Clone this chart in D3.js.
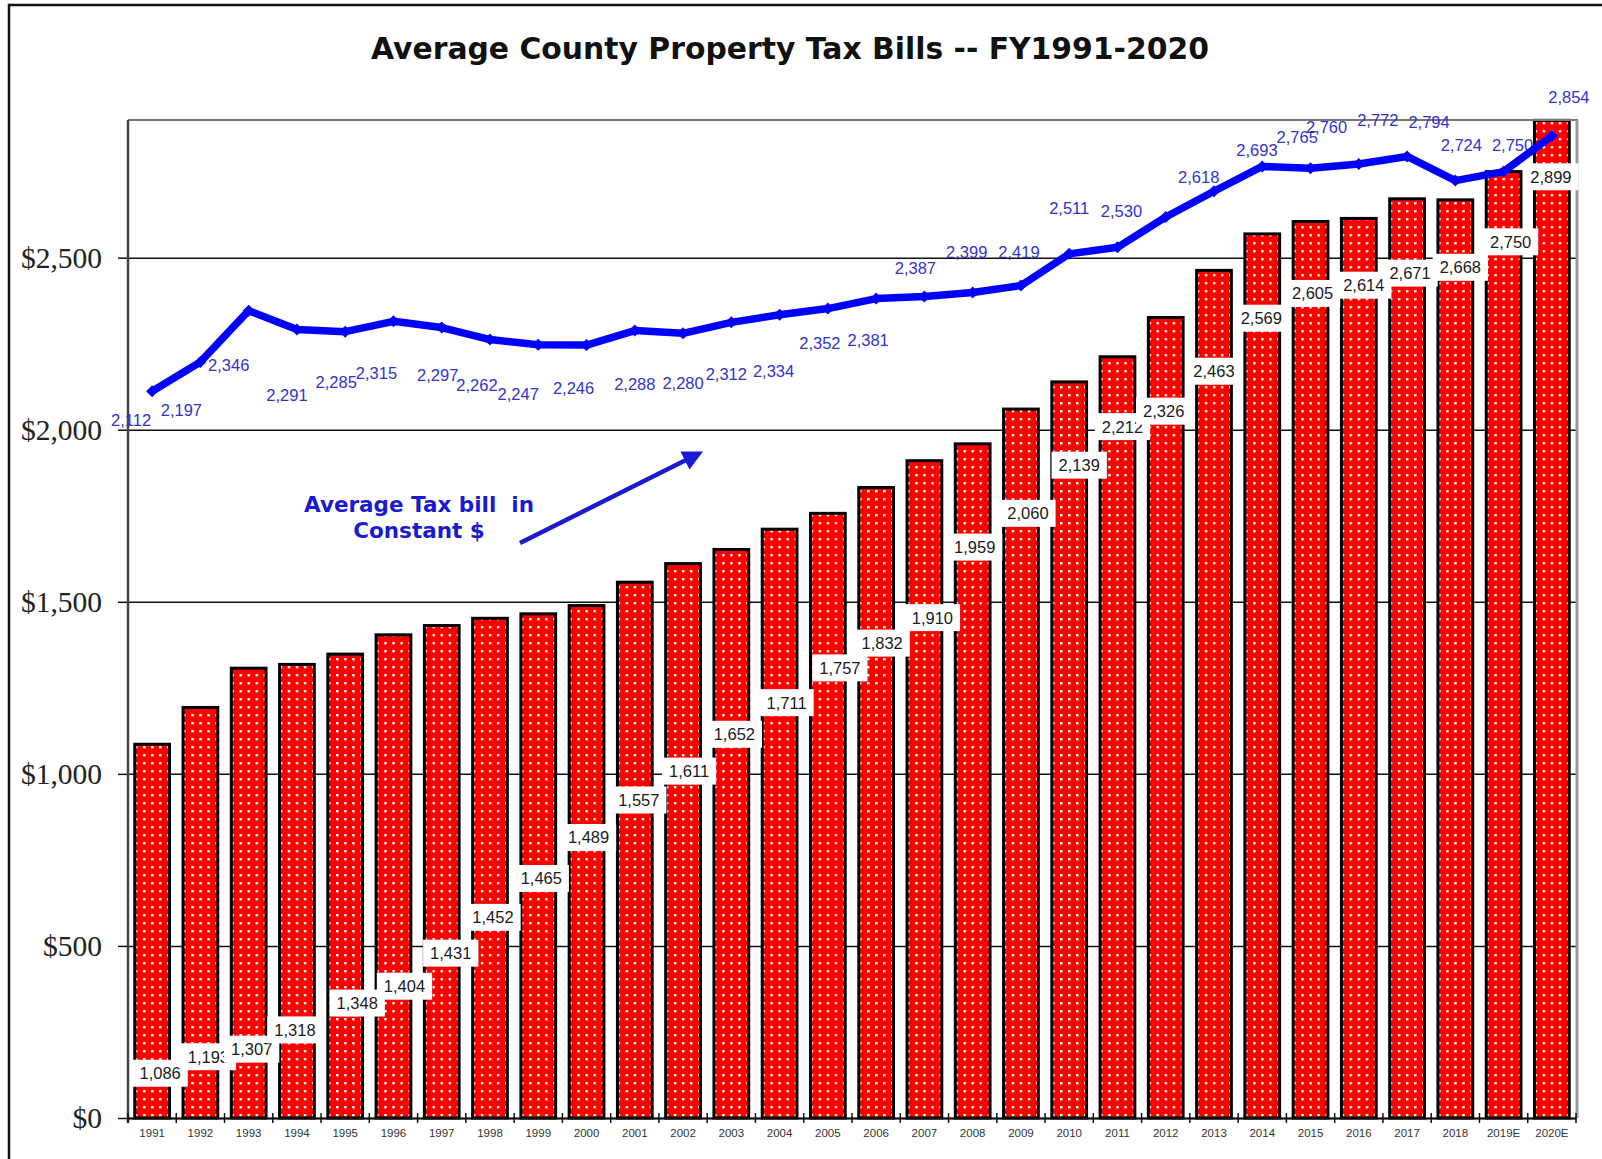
<!DOCTYPE html>
<html>
<head>
<meta charset="utf-8">
<script src="https://cdn.jsdelivr.net/npm/d3@7"></script>
<style>
  body { margin: 0; background: #fff; }
  svg { display: block; }
</style>
</head>
<body>
<div id="chart"></div>
<script>
// categories + series
var years = ["1991", "1992", "1993", "1994", "1995", "1996", "1997", "1998", "1999", "2000",
  "2001", "2002", "2003", "2004", "2005", "2006", "2007", "2008", "2009", "2010",
  "2011", "2012", "2013", "2014", "2015", "2016", "2017", "2018", "2019E", "2020E"];

var billNominal = [1086, 1193, 1307, 1318, 1348, 1404, 1431, 1452, 1465, 1489,
  1557, 1611, 1652, 1711, 1757, 1832, 1910, 1959, 2060, 2139,
  2212, 2326, 2463, 2569, 2605, 2614, 2671, 2668, 2750, 2899];

var billConstant = [2112, 2197, 2346, 2291, 2285, 2315, 2297, 2262, 2247, 2246,
  2288, 2280, 2312, 2334, 2352, 2381, 2387, 2399, 2419, 2511,
  2530, 2618, 2693, 2765, 2760, 2772, 2794, 2724, 2750, 2854];

var yTicks = [0, 500, 1000, 1500, 2000, 2500];

// where the (hand placed) bar labels sit, in dollars, and their nudge
var barLabelAt = [130, 178, 200, 256, 334, 383, 479, 583, 696, 815,
  924, 1008, 1115, 1207, 1308, 1380, 1454, 1659, 1757, 1897,
  2009, 2054, 2170, 2324, 2396, 2420, 2455, 2472, 2546, 2735];
var barLabelDx = [8, 8, 3, -2, 12, 11, 9, 3, 3, 2, 4, 6, 3, 7, 12, 6, 8, 2, 7, 10,
  5, -2, 0, -1, 2, 5, 3, 5, 7, -1];

// nudges of the blue labels from their points
var lineLabelDx = [-21, -19, -20, -10, -9, -17, -4, -13, -20, -13, 0, 0, -5, -6, -8, -8,
  -9, -6, -2, 0, 4, 33, 43, 35, 16, 19, 22, 6, 9, 17];
var lineLabelDy = [29, 48, 54, 65, 50, 52, 48, 45, 49, 43, 53, 50, 52, 56, 34, 41,
  -28, -40, -33, -46, -36, -40, -41, -29, -41, -44, -34, -36, -27, -39];

var width = 1602,
  height = 1159;
var plotLeft = 128,
  plotRight = 1576,
  plotTop = 120,
  plotBottom = 1118;

var fmt = d3.format(",");

var svg = d3.select("#chart")
  .append("svg")
  .attr("width", width)
  .attr("height", height);

// outer frame
svg.append("rect")
  .attr("x", 9)
  .attr("y", 5)
  .attr("width", width)
  .attr("height", height)
  .attr("fill", "none")
  .attr("stroke", "#111")
  .attr("stroke-width", 2.5);

//title
var title = svg.append("text")
  .attr("x", 790)
  .attr("y", 59)
  .attr("text-anchor", "middle")
  .style("font-family", "'DejaVu Sans', sans-serif")
  .style("font-weight", "bold")
  .style("font-size", "31px")
  .attr("fill", "#111")
  .text("Average County Property Tax Bills -- FY1991-2020");
if (Math.abs(title.node().getComputedTextLength() - 838) > 4) {
  title.attr("textLength", 838).attr("lengthAdjust", "spacingAndGlyphs");
}

var x = d3.scaleBand()
  .domain(years)
  .range([plotLeft, plotRight])
  .paddingInner(0.28)
  .paddingOuter(0.14);

var y = d3.scaleLinear()
  .domain([0, 2900])
  .range([plotBottom, plotTop]);

function cx(d) {
  return x(d) + x.bandwidth() / 2;
}

// dotted fill for the bars
var defs = svg.append("defs");
var pat = defs.append("pattern")
  .attr("id", "dots")
  .attr("patternUnits", "userSpaceOnUse")
  .attr("x", x(years[0]) + 8.2)
  .attr("y", 2)
  .attr("width", x.step() / 6)
  .attr("height", 8);
pat.append("rect")
  .attr("x", -10).attr("y", -10)
  .attr("width", 40).attr("height", 40)
  .attr("fill", "#ff0000");
pat.append("rect")
  .attr("width", 2.4)
  .attr("height", 2.4)
  .attr("fill", "#fff");

//grid lines
svg.append("g")
  .attr("transform", "translate(" + plotLeft + ",0)")
  .call(d3.axisLeft(y).tickValues(yTicks).tickSizeInner(-(plotRight - plotLeft)).tickSizeOuter(0).tickFormat(""))
  .call(function(g) {
    g.select(".domain").remove();
    g.selectAll("line").attr("stroke", "#111").attr("stroke-width", 1.5);
  });

// y labels + short outside ticks
svg.append("g")
  .attr("transform", "translate(" + plotLeft + ",0)")
  .call(d3.axisLeft(y).tickValues(yTicks).tickSize(10).tickPadding(16).tickFormat(function(d) {
    return "$" + fmt(d);
  }))
  .call(function(g) {
    g.select(".domain").remove();
    g.selectAll("line").attr("stroke", "#111").attr("stroke-width", 1.5);
    g.selectAll("text")
      .attr("fill", "#222")
      .style("font-family", "'Liberation Serif', 'Times New Roman', serif")
      .style("font-size", "29.5px");
  });

//bars
svg.append("g")
  .selectAll("rect")
  .data(billNominal)
  .enter().append("rect")
  .attr("x", function(d, i) { return x(years[i]); })
  .attr("y", function(d) { return y(d); })
  .attr("width", x.bandwidth())
  .attr("height", function(d) { return plotBottom - y(d); })
  .attr("fill", "url(#dots)")
  .attr("stroke", "#000")
  .attr("stroke-width", 3);

// plot border (top/right gray, left dark)
svg.append("line")
  .attr("x1", plotLeft).attr("x2", plotRight + 2)
  .attr("y1", plotTop).attr("y2", plotTop)
  .attr("stroke", "#777").attr("stroke-width", 2);
svg.append("line")
  .attr("x1", plotRight + 1).attr("x2", plotRight + 1)
  .attr("y1", plotTop).attr("y2", plotBottom)
  .attr("stroke", "#999").attr("stroke-width", 3);
svg.append("line")
  .attr("x1", plotLeft).attr("x2", plotLeft)
  .attr("y1", plotTop).attr("y2", plotBottom + 5)
  .attr("stroke", "#444").attr("stroke-width", 2.5);

// x axis, ticks between the bars
var xAxis = svg.append("g")
  .attr("transform", "translate(0," + plotBottom + ")")
  .call(d3.axisBottom(x).tickSize(0).tickPadding(11))
  .call(function(g) {
    g.select(".domain").attr("stroke", "#111").attr("stroke-width", 2);
    g.selectAll("text")
      .attr("fill", "#333")
      .style("font-family", "'Liberation Sans', Arial, sans-serif")
      .style("font-size", "11.5px");
  });
xAxis.selectAll(".sep")
  .data(d3.range(years.length + 1))
  .enter().append("line")
  .attr("class", "sep")
  .attr("x1", function(i) { return plotLeft + i * x.step(); })
  .attr("x2", function(i) { return plotLeft + i * x.step(); })
  .attr("y1", -5)
  .attr("y2", 5)
  .attr("stroke", "#111")
  .attr("stroke-width", 1.5);

//bar value labels in white boxes
var bl = svg.append("g")
  .selectAll("g")
  .data(billNominal)
  .enter().append("g")
  .attr("transform", function(d, i) {
    return "translate(" + (cx(years[i]) + barLabelDx[i]) + "," + y(barLabelAt[i]) + ")";
  });
bl.append("rect").attr("fill", "#fff");
bl.append("text")
  .attr("text-anchor", "middle")
  .attr("dy", "0.36em")
  .attr("fill", "#1a1a1a")
  .style("font-family", "'Liberation Sans', Arial, sans-serif")
  .style("font-size", "16.5px")
  .text(function(d) { return fmt(d); });
bl.each(function() {
  var g = d3.select(this);
  var w = g.select("text").node().getComputedTextLength() + 14;
  g.select("rect")
    .attr("x", -w / 2)
    .attr("y", -13.5)
    .attr("width", w)
    .attr("height", 27);
});

// blue labels for constant dollars
svg.append("g")
  .selectAll("text")
  .data(billConstant)
  .enter().append("text")
  .attr("x", function(d, i) { return cx(years[i]) + lineLabelDx[i]; })
  .attr("y", function(d, i) { return y(d) + lineLabelDy[i]; })
  .attr("dy", "0.36em")
  .attr("text-anchor", "middle")
  .attr("fill", "#3333cc")
  .style("font-family", "'Liberation Sans', Arial, sans-serif")
  .style("font-size", "16.5px")
  .text(function(d) { return fmt(d); });

//constant $ line
var line = d3.line()
  .x(function(d, i) { return cx(years[i]); })
  .y(function(d) { return y(d); });

svg.append("path")
  .datum(billConstant)
  .attr("d", line)
  .attr("fill", "none")
  .attr("stroke", "#0000ff")
  .attr("stroke-width", 7.5)
  .attr("stroke-linejoin", "round");

svg.append("g")
  .selectAll("path")
  .data(billConstant)
  .enter().append("path")
  .attr("d", d3.symbol().type(d3.symbolSquare).size(72))
  .attr("transform", function(d, i) {
    return "translate(" + cx(years[i]) + "," + y(d) + ") rotate(45)";
  })
  .attr("fill", "#0000ff");

// annotation
var note = svg.append("text")
  .attr("text-anchor", "middle")
  .attr("fill", "#1a1ad4")
  .style("font-family", "'DejaVu Sans', Verdana, sans-serif")
  .style("font-weight", "bold")
  .style("font-size", "21.5px")
  .style("white-space", "pre");
note.append("tspan").attr("x", 419).attr("y", 512).text("Average Tax bill  in");
note.append("tspan").attr("x", 419).attr("y", 538).text("Constant $");

defs.append("marker")
  .attr("id", "head")
  .attr("viewBox", "0 0 10 10")
  .attr("refX", 5)
  .attr("refY", 5)
  .attr("markerWidth", 4.5)
  .attr("markerHeight", 4.5)
  .attr("orient", "auto")
  .append("path")
  .attr("d", "M0,0L10,5L0,10z")
  .attr("fill", "#1a1ad4");

svg.append("line")
  .attr("x1", 520).attr("y1", 543)
  .attr("x2", 694).attr("y2", 456)
  .attr("stroke", "#1a1ad4")
  .attr("stroke-width", 4.5)
  .attr("marker-end", "url(#head)");
</script>
</body>
</html>
